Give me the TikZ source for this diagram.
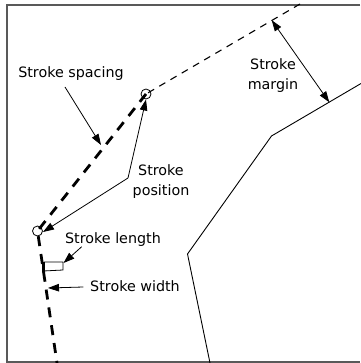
\documentclass[tikz,border=0pt]{standalone}
\usepackage{fontspec}
\setmainfont{DejaVu Sans}
\usetikzlibrary{arrows.meta}
\begin{document}
\begin{tikzpicture}[x=1pt,y=-1pt,
  label/.style={font=\fontsize{14.3}{20}\selectfont, align=center, inner sep=0pt},
  frameline/.style={draw=black!65, line width=1.4pt},
  outline/.style={draw=black, line width=0.9pt, line join=miter},
  thindash/.style={draw=black, line width=1.1pt, dash pattern=on 7pt off 6pt},
  thickdash/.style={draw=black, line width=2.8pt, dash pattern=on 10pt off 8pt},
  marker/.style={draw=black, line width=0.8pt, circle, minimum size=10pt, inner sep=0pt},
  pointer/.style={draw=black, line width=0.8pt, -{Triangle[length=11pt,width=7.5pt]}},
  twopointer/.style={draw=black, line width=0.8pt, {Triangle[length=11pt,width=7.5pt]}-{Triangle[length=11pt,width=7.5pt]}}]
\useasboundingbox (0,0) rectangle (360,363);
% frame
\draw[frameline] (360,5) -- (7,5) -- (7,362) -- (360,362);
% solid outline
\coordinate (s0) at (361,83.5);
\coordinate (s1) at (271.5,136);
\coordinate (s2) at (187.5,254);
\coordinate (s3) at (210,363);
\draw[outline] (s0) -- (s1) -- (s2) -- (s3);
% dashed offset path
\coordinate (d0) at (300,4);
\node[marker] (c1) at (146,94) {};
\node[marker] (c2) at (37.5,231) {};
\coordinate (d3) at (57,363);
\draw[thindash] (d0) -- (c1.center);
\draw[thickdash] (c1.center) -- (c2.center) -- (d3);
% stroke length box
\coordinate (r0) at (43.5,262);
\coordinate (r1) at (63,262);
\coordinate (r2) at (63,270);
\coordinate (r3) at (43.5,271);
\draw[draw=black, line width=0.8pt] (r0) -- (r1) -- (r2) -- (r3);
\draw[draw=black, line width=2.8pt] (43.5,262) -- (43.5,272);
% labels
\node[label] (spacing) at (71,74) {Stroke spacing};
\node[label] (position) at (161,182) {Stroke\\position};
\node[label] (margin) at (273,76) {Stroke\\margin};
\node[label] (length) at (113,240) {Stroke length};
\node[label] (width) at (135,286) {Stroke width};
% arrows
\coordinate (a0) at (65,87);
\coordinate (a1) at (101,145);
\draw[pointer] (a0) -- (a1);
\coordinate (v) at (128,178);
\coordinate (p1) at (146,99.5);
\coordinate (p2) at (43,232);
\draw[pointer] (v) -- (p1);
\draw[pointer] (v) -- (p2);
\coordinate (m0) at (271.7,20.2);
\coordinate (m1) at (329.3,102.3);
\draw[twopointer] (m0) -- (m1);
\coordinate (l0) at (81.7,246.7);
\coordinate (l1) at (63.5,263);
\draw[pointer] (l0) -- (l1);
\coordinate (w0) at (83.3,287);
\coordinate (w1) at (48,288);
\draw[pointer] (w0) -- (w1);
\end{tikzpicture}
\end{document}
